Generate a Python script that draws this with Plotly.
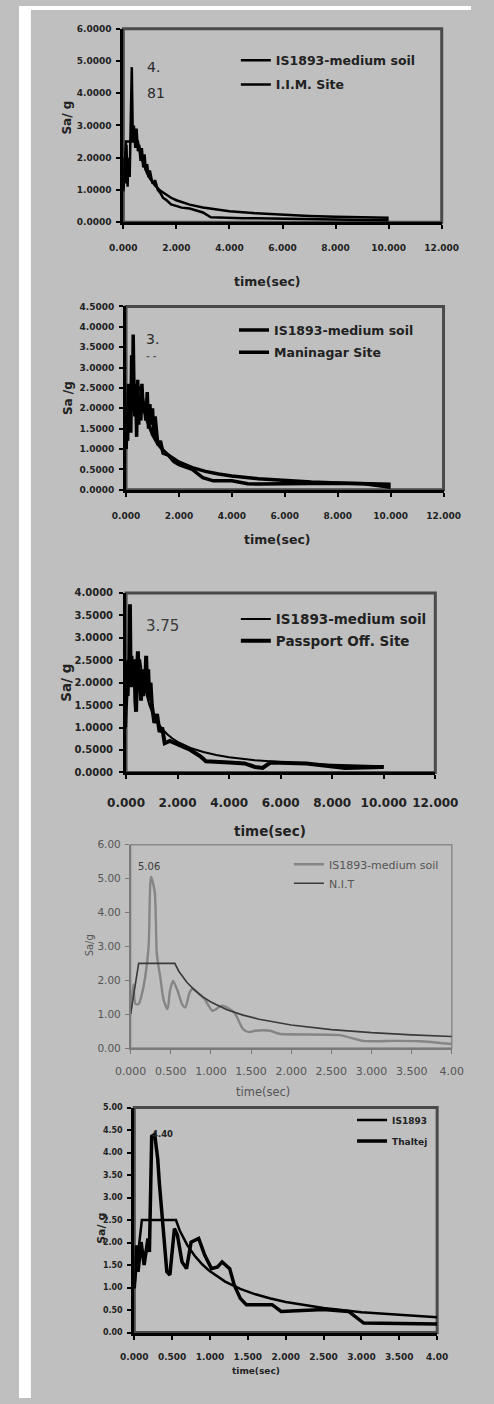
import plotly.graph_objects as go

# ---------------- data ----------------
# IS1893 medium-soil design spectrum
is_t_long = [0, 0.1, 0.55, 0.6, 0.7, 0.8, 0.9, 1.0, 1.2, 1.4, 1.6, 1.8, 2.0, 2.5, 3.0, 3.5, 4.0,
             5.0, 6.0, 7.0, 8.0, 9.0, 10.0]
is_sa_long = [1.0, 2.5, 2.5, 2.267, 1.943, 1.7, 1.511, 1.36, 1.133, 0.971, 0.85, 0.756, 0.68,
              0.544, 0.453, 0.389, 0.34, 0.272, 0.227, 0.194, 0.17, 0.151, 0.136]
is_t_short = [0, 0.1, 0.55, 0.6, 0.7, 0.8, 0.9, 1.0, 1.2, 1.4, 1.6, 1.8, 2.0, 2.5, 3.0, 3.5, 4.0]
is_sa_short = [1.0, 2.5, 2.5, 2.267, 1.943, 1.7, 1.511, 1.36, 1.133, 0.971, 0.85, 0.756, 0.68,
               0.544, 0.453, 0.389, 0.34]

# I.I.M. Site
iim_t = [0, 0.04, 0.08, 0.12, 0.16, 0.2, 0.24, 0.28, 0.32, 0.36, 0.4, 0.45, 0.5, 0.55, 0.6, 0.65,
         0.7, 0.75, 0.8, 0.85, 0.9, 0.95, 1.0, 1.1, 1.2, 1.3, 1.4, 1.5, 1.6, 1.8, 2.0, 2.2, 2.5,
         2.8, 3.0, 3.3, 3.6, 4.0, 4.5, 5.0, 6.0, 7.0, 8.0, 9.0, 10.0]
iim_sa = [0.95, 2.0, 1.2, 2.4, 1.1, 2.0, 1.4, 3.0, 4.81, 2.5, 3.0, 2.3, 2.9, 2.2, 2.4, 1.9,
          2.3, 1.7, 2.1, 1.6, 1.8, 1.4, 1.6, 1.2, 1.3, 1.0, 0.9, 0.75, 0.7, 0.55, 0.5, 0.45, 0.42,
          0.35, 0.3, 0.15, 0.14, 0.15, 0.12, 0.12, 0.10, 0.09, 0.08, 0.07, 0.06]

# Maninagar Site
man_t = [0, 0.03, 0.06, 0.09, 0.12, 0.15, 0.18, 0.21, 0.24, 0.27, 0.3, 0.33, 0.36, 0.4, 0.44,
         0.48, 0.52, 0.56, 0.6, 0.65, 0.7, 0.75, 0.8, 0.85, 0.9, 0.95, 1.0, 1.05, 1.1, 1.2,
         1.3, 1.4, 1.6, 1.8, 2.0, 2.5, 2.9, 3.3, 4.0, 4.6, 5.0, 6.0, 7.0, 8.0, 9.0, 10.0]
man_sa = [1.0, 1.8, 1.2, 2.6, 1.5, 2.3, 1.4, 3.3, 2.0, 3.81, 2.4, 1.8, 2.6, 1.3, 2.7,
          1.6, 2.2, 1.7, 2.6, 1.9, 2.0, 1.7, 2.4, 1.5, 2.1, 1.6, 2.0, 1.3, 1.8, 1.1,
          1.2, 0.9, 0.85, 0.7, 0.62, 0.5, 0.3, 0.22, 0.22, 0.15, 0.14, 0.15, 0.17, 0.16, 0.15, 0.06]

# Passport Off. Site
pas_t = [0, 0.03, 0.06, 0.09, 0.12, 0.15, 0.18, 0.21, 0.24, 0.27, 0.3, 0.33, 0.36, 0.39, 0.42,
         0.46, 0.5, 0.54, 0.58, 0.62, 0.66, 0.7, 0.74, 0.78, 0.82, 0.86, 0.9, 0.95, 1.0, 1.1,
         1.2, 1.3, 1.4, 1.5, 1.7, 2.0, 2.5, 2.9, 3.1, 4.0, 4.6, 5.0, 5.3, 5.6, 7.0, 8.5, 10.0]
pas_sa = [1.5, 2.5, 1.7, 2.3, 2.0, 3.75, 1.9, 2.6, 2.0, 2.4, 1.9, 2.5, 1.6, 1.35, 2.2,
          2.7, 1.8, 2.2, 1.6, 2.3, 1.7, 2.0, 1.9, 2.6, 1.8, 2.3, 1.6, 2.0, 1.5, 1.1,
          1.3, 0.9, 1.0, 0.65, 0.7, 0.62, 0.5, 0.35, 0.25, 0.22, 0.2, 0.12, 0.1, 0.22, 0.2, 0.1, 0.12]

# N.I.T panel (peaky grey curve, labelled as in the picture's legend)
nit_peak_t = [0, 0.034, 0.06, 0.1, 0.14, 0.186, 0.224, 0.254, 0.3, 0.327, 0.37, 0.414, 0.46, 0.49,
              0.528, 0.585, 0.642, 0.68, 0.737, 0.775, 0.85, 0.92, 1.02, 1.14, 1.29, 1.4, 1.48,
              1.55, 1.74, 1.85, 2.6, 2.9, 3.3, 3.6, 4.0]
nit_peak_sa = [1.0, 1.88, 1.3, 1.3, 1.59, 2.17, 3.0, 5.06, 4.61, 2.76, 2.08, 1.39, 1.15, 1.69,
               1.98, 1.69, 1.29, 1.2, 1.65, 1.75, 1.6, 1.45, 1.1, 1.25, 1.05, 0.56, 0.47,
               0.51, 0.51, 0.42, 0.38, 0.21, 0.21, 0.2, 0.12]

# Thaltej Site
tha_t = [0, 0.03, 0.05, 0.09, 0.13, 0.18, 0.2, 0.23, 0.27, 0.31, 0.33, 0.36, 0.39, 0.43, 0.47,
         0.53, 0.57, 0.63, 0.69, 0.75, 0.85, 0.93, 1.02, 1.1, 1.16, 1.26, 1.32, 1.4, 1.48, 1.82,
         1.94, 2.5, 2.83, 3.03, 4.0]
tha_sa = [0.98, 1.94, 1.35, 2.01, 1.5, 2.09, 1.79, 4.36, 4.4, 3.85, 3.34, 2.67, 2.01, 1.35, 1.28,
          2.31, 2.16, 1.57, 1.42, 2.01, 2.09, 1.72, 1.42, 1.46, 1.57, 1.42, 1.06, 0.76, 0.62, 0.62,
          0.47, 0.51, 0.47, 0.21, 0.19]

x_ticks_short = [0, 0.5, 1.0, 1.5, 2.0, 2.5, 3.0, 3.5, 4.0]
x_ticktext_short = ["0.000", "0.500", "1.000", "1.500", "2.000", "2.500", "3.000", "3.500", "4.00"]

# ---------------- layout helpers ----------------
W, H = 494, 1404
BG = "#bfbfbf"
FONT = "DejaVu Sans"
TXT = "#222222"


def fx(p):
    return p / W


def fy(p):
    return 1 - p / H


fig = go.Figure()

# panel pixel boxes: (left, right, top, bottom)
boxes = [
    (114, 462, 23, 218),
    (117, 464, 303, 488),
    (117, 455, 592, 773),
    (122, 473, 846, 1051),
    (126, 457, 1111, 1338),
]


def add(i, x, y, name, color, width, legend, group, shape="linear"):
    fig.add_trace(go.Scatter(
        x=x, y=y, mode="lines", name=name,
        line=dict(color=color, width=width, shape=shape, smoothing=0.7 if shape == "spline" else None),
        xaxis="x" if i == 1 else f"x{i}", yaxis="y" if i == 1 else f"y{i}",
        legend=legend, legendgroup=group, hoverinfo="skip"))


add(1, is_t_long, is_sa_long, "IS1893-medium soil", "#000000", 2.5, "legend", "a1")
add(1, iim_t, iim_sa, "I.I.M. Site", "#000000", 2.5, "legend", "b1")
add(2, is_t_long, is_sa_long, "IS1893-medium soil", "#000000", 3.5, "legend2", "a2")
add(2, man_t, man_sa, "Maninagar Site", "#000000", 3.5, "legend2", "b2")
add(3, is_t_long, is_sa_long, "IS1893-medium soil", "#000000", 2, "legend3", "a3")
add(3, pas_t, pas_sa, "Passport Off. Site", "#000000", 4, "legend3", "b3")
add(4, nit_peak_t, nit_peak_sa, "IS1893-medium soil", "#858585", 2.4, "legend4", "a4", "spline")
add(4, is_t_short, is_sa_short, "N.I.T", "#3a3a3a", 1.6, "legend4", "b4")
add(5, is_t_short, is_sa_short, "IS1893", "#000000", 2.5, "legend5", "a5")
add(5, tha_t, tha_sa, "Thaltej", "#000000", 3.5, "legend5", "b5")

axis_specs = [
    # (xrange, xdtick, xfmt, yrange, ydtick, yfmt, fs_x, fs_y, weight, color, axiscolor, lw, xstand, ystand)
    ([0, 12], 2, ".3f", [0, 6], 1, ".4f", 9, 9, "bold", TXT, "#000000", 3, 11, 3),
    ([0, 12], 2, ".3f", [0, 4.5], 0.5, ".4f", 9, 9, "bold", TXT, "#000000", 3, 11, 3),
    ([0, 12], 2, ".3f", [0, 4], 0.5, ".4f", 12, 10, "bold", TXT, "#000000", 3, 13, 4),
    ([0, 4], None, None, [0, 6], 1, ".2f", 11, 10.5, "normal", "#555555", "#7a7a7a", 1.5, 8, 2),
    ([0, 4], None, None, [0, 5], 0.5, ".2f", 9, 8, "bold", TXT, "#000000", 3, 10, 3),
]
frame_colors = ["#4a4a4a", "#4a4a4a", "#4a4a4a", "#8a8a8a", "#4a4a4a"]

layout = dict(
    width=W, height=H, autosize=False,
    margin=dict(l=0, r=0, t=0, b=0),
    paper_bgcolor=BG, plot_bgcolor=BG,
    font=dict(family=FONT, color=TXT),
    shapes=[], annotations=[],
)

for i, (box, spec) in enumerate(zip(boxes, axis_specs), start=1):
    l, r, t, b = box
    xr, xd, xf, yr, yd, yf, fsx, fsy, wt, col, acol, lw, xst, yst = spec
    xk = "xaxis" if i == 1 else f"xaxis{i}"
    yk = "yaxis" if i == 1 else f"yaxis{i}"
    xa = dict(domain=[fx(l), fx(r)], range=xr, anchor="y" if i == 1 else f"y{i}",
              showgrid=False, zeroline=False, showline=True, linecolor=acol, linewidth=lw,
              ticks="outside", ticklen=4, tickwidth=2 if lw > 2 else 1, tickcolor=acol,
              ticklabelstandoff=xst,
              tickfont=dict(size=fsx, color=col, weight=wt, family=FONT),
              fixedrange=True)
    if xd is not None:
        xa.update(dtick=xd, tick0=0, tickformat=xf)
    else:
        xa.update(tickmode="array", tickvals=x_ticks_short, ticktext=x_ticktext_short)
    ya = dict(domain=[fy(b), fy(t)], range=yr, anchor="x" if i == 1 else f"x{i}",
              showgrid=False, zeroline=False, showline=True, linecolor=acol, linewidth=lw,
              ticks="outside", ticklen=4, tickwidth=2 if lw > 2 else 1, tickcolor=acol,
              ticklabelstandoff=yst,
              dtick=yd, tick0=0, tickformat=yf,
              tickfont=dict(size=fsy, color=col, weight=wt, family=FONT),
              fixedrange=True)
    layout[xk] = xa
    layout[yk] = ya
    xs = "x" if i == 1 else f"x{i}"
    ys = "y" if i == 1 else f"y{i}"
    layout["shapes"].append(dict(type="rect", xref=f"{xs} domain", yref=f"{ys} domain",
                                 x0=0, x1=1, y0=0, y1=1, layer="below",
                                 line=dict(color=frame_colors[i - 1], width=lw)))

# white strips around the grey page
layout["shapes"].append(dict(type="rect", xref="paper", yref="paper", x0=0, x1=fx(13), y0=0, y1=1,
                             fillcolor="white", line=dict(width=0), layer="below"))
layout["shapes"].append(dict(type="rect", xref="paper", yref="paper", x0=0, x1=1, y0=fy(4), y1=1,
                             fillcolor="white", line=dict(width=0), layer="below"))


def ann(text, x, y, size, color=TXT, weight="bold", angle=0, xanchor="center"):
    layout["annotations"].append(dict(
        text=text, x=fx(x), y=fy(y), xref="paper", yref="paper", showarrow=False,
        xanchor=xanchor, yanchor="middle", textangle=angle,
        font=dict(size=size, color=color, weight=weight, family=FONT)))


# axis titles
ann("Sa/ g", 53, 112, 12, angle=-90)
ann("time(sec)", 272, 278, 12.5)
ann("Sa /g", 53, 395, 12, angle=-90)
ann("time(sec)", 282, 538, 12.5)
ann("Sa/ g", 52, 683, 13.5, angle=-90)
ann("time(sec)", 274, 832, 13.5)
ann("Sa/g", 77, 947, 10, color="#555555", weight="normal", angle=-90)
ann("time(sec)", 267, 1095, 11.5, color="#555555", weight="normal")
ann("Sa/ g", 90, 1233, 11, angle=-90)
ann("time(sec)", 259, 1377, 9)

# peak value labels
ann("4.", 138, 62, 14, color="#2a2a2a", weight="normal", xanchor="left")
ann("81", 138, 88, 14, color="#2a2a2a", weight="normal", xanchor="left")
ann("3.", 137, 336, 14, color="#2a2a2a", weight="normal", xanchor="left")
ann("- -", 137, 353, 9, color="#5a5a5a", weight="bold", xanchor="left")
ann("3.75", 137, 625, 15, color="#3a3a3a", weight="normal", xanchor="left")
ann("5.06", 128, 868, 10, color="#3a3a3a", weight="normal", xanchor="left")
ann("4.40", 143, 1138, 8.5, color=TXT, weight="bold", xanchor="left")

# legends
leg = [
    ("legend", 237, 40, 12.5, "bold", TXT, 5),
    ("legend2", 235, 312, 12.5, "bold", TXT, 3),
    ("legend3", 237, 603, 13.5, "bold", TXT, 1),
    ("legend4", 295, 851, 11, "normal", "#555555", 0),
    ("legend5", 364, 1109, 9, "bold", TXT, 2),
]
for key, x, y, size, wt, col, gap in leg:
    layout[key] = dict(x=fx(x), y=fy(y), xref="paper", yref="paper", xanchor="left", yanchor="top",
                       bgcolor="rgba(0,0,0,0)", borderwidth=0, traceorder="grouped",
                       tracegroupgap=gap, itemclick=False, itemdoubleclick=False,
                       font=dict(size=size, color=col, weight=wt, family=FONT))

fig.update_layout(**layout)
fig.write_html(
    "out.html",
    config={"displayModeBar": False},
    post_script="document.body.style.margin='0';document.body.style.overflow='hidden';",
)
